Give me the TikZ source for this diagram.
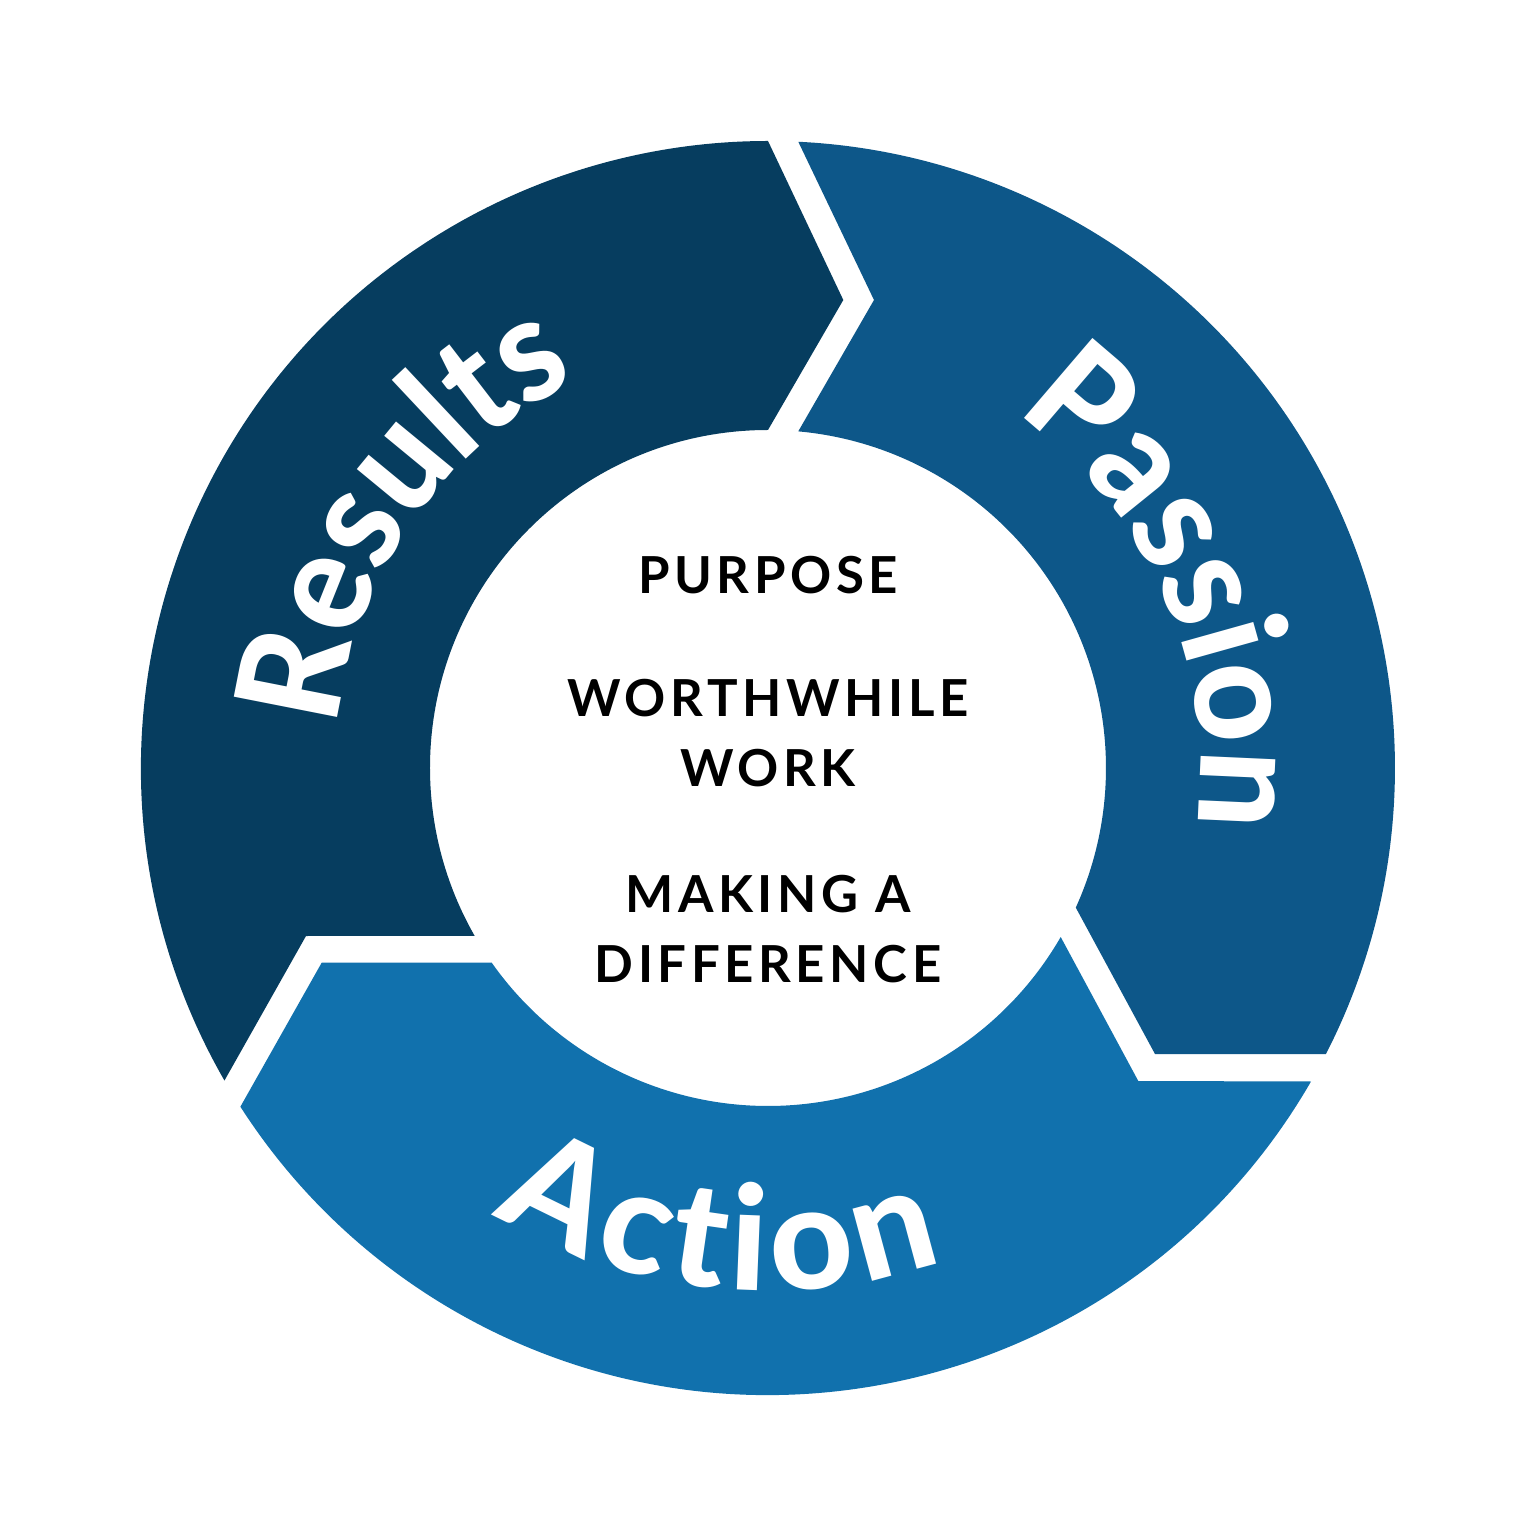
\documentclass[tikz,border=0pt]{standalone}
\usepackage{fontspec}
\setmainfont{Lato}
\IfFontExistsTF{Lato Heavy}{\newfontfamily\heavyfont{Lato Heavy}}{\newfontfamily\heavyfont{Lato}[UprightFont=*,UprightFeatures={FakeBold=1.5}]}
\usetikzlibrary{decorations.text}
\definecolor{resc}{HTML}{063D5F}
\definecolor{pasc}{HTML}{0D5789}
\definecolor{actc}{HTML}{1171AD}
\newcommand{\bigfnt}{\heavyfont\fontsize{72.5}{80}\selectfont}
\newcommand{\narrowfnt}[1]{\heavyfont\fontsize{72.5}{80}\selectfont\addfontfeatures{FakeStretch=#1}}
\begin{document}
\begin{tikzpicture}[x=0.5pt,y=0.5pt,
  ctext/.style={font=\fontsize{25.5}{35}\selectfont\bfseries\addfontfeatures{LetterSpace=9}, text=black, align=center, inner sep=0pt},
  ringlabel/.style={decorate, decoration={text along path, text align=center, text color=white}}]
\useasboundingbox (-768,-768) rectangle (768,768);
\fill[white] (-768,-768) rectangle (768,768);
% Results
\fill[resc] (209.9:627) arc[start angle=209.9, end angle=90, radius=627] -- (75.3,468) -- (90:338)
  arc[start angle=90, end angle=209.8, radius=338] -- (-462,-168) -- cycle;
% Passion
\fill[pasc] (87.23:627) arc[start angle=87.23, end angle=-27.14, radius=627] -- (387,-286) -- (-24.4:338)
  arc[start angle=-24.4, end angle=84.86, radius=338] -- (106,468) -- cycle;
% Action
\fill[actc] (-30:627) arc[start angle=-30, end angle=-147.3, radius=627] -- (-446.3,-194.7) -- (-144.84:338)
  arc[start angle=-144.84, end angle=-30, radius=338] -- (370.3,-313) -- cycle;
% ring labels
\path[ringlabel, decoration={text={|\narrowfnt{0.93}|Results}}] (185.45:432) arc[start angle=185.45, end angle=105.45, radius=432];
\path[ringlabel, decoration={text={|\narrowfnt{0.955}|Passion}}] (63.7:432) arc[start angle=63.7, end angle=-16.3, radius=432];
\path[ringlabel, decoration={text={|\bigfnt|Action}, text align=fit to path}] (238.3:523) arc[start angle=238.3, end angle=289.6, radius=523];
% centre text
\node[ctext] (purpose) at (0,193) {PURPOSE};
\node[ctext] (worth) at (0,35) {WORTHWHILE\\WORK};
\node[ctext] (making) at (0,-161) {MAKING A\\DIFFERENCE};
\end{tikzpicture}
\end{document}
